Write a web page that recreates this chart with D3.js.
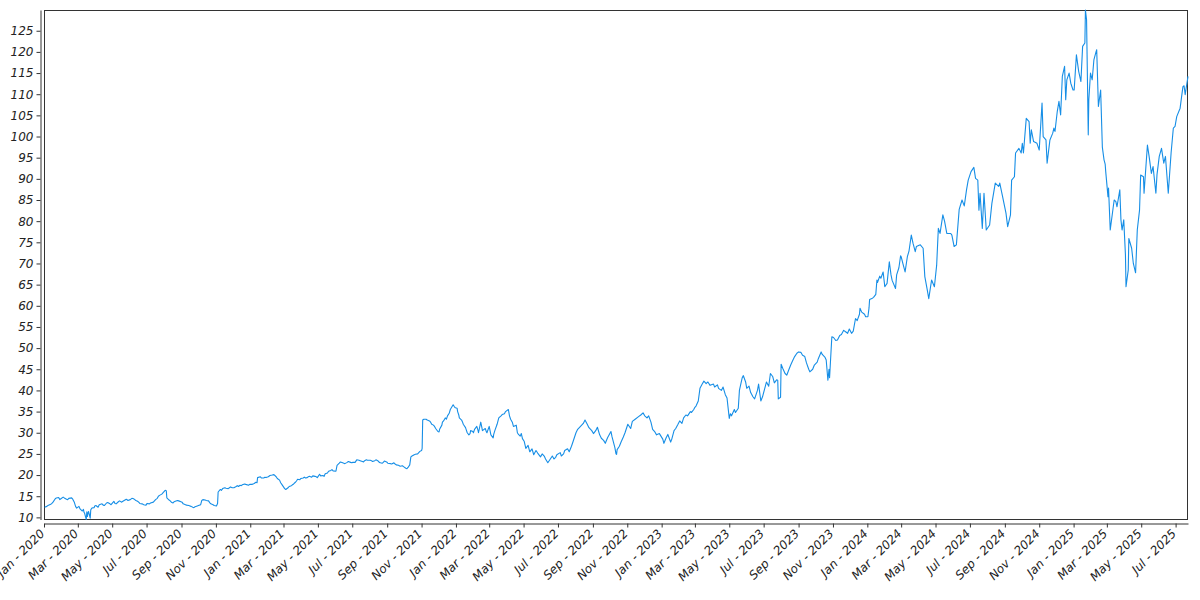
<!DOCTYPE html>
<html><head><meta charset="utf-8">
<script src="https://cdn.jsdelivr.net/npm/d3@7/dist/d3.min.js"></script>
<style>html,body{margin:0;background:#fff}</style>
</head><body><svg id="c" width="1200" height="600"></svg>
<script>
const prices2020 = [
["2020-01-02",12.4],["2020-01-06",12.6],["2020-01-08",12.8],["2020-01-13",13.1],["2020-01-15",13.3],["2020-01-17",13.6],["2020-01-21",14.4],["2020-01-23",14.6],["2020-01-27",14.7],["2020-01-29",14.2],["2020-01-31",14.4],
["2020-02-04",14.8],["2020-02-06",14.6],["2020-02-10",14.3],["2020-02-12",14.2],["2020-02-14",14.5],["2020-02-19",14.6],["2020-02-21",14.3],["2020-02-24",13.5],["2020-02-26",12.6],["2020-02-28",12.2],
["2020-03-03",12.6],["2020-03-05",12.0],["2020-03-09",11.5],["2020-03-11",11.9],["2020-03-12",11.2],["2020-03-13",11.0],["2020-03-16",9.5],["2020-03-17",11.3],["2020-03-18",10.2],["2020-03-19",11.0],["2020-03-20",11.4],["2020-03-23",9.8],["2020-03-24",11.8],["2020-03-26",12.2],["2020-03-30",12.3],["2020-03-31",12.7],
["2020-04-02",12.8],["2020-04-06",12.4],["2020-04-08",13.0],["2020-04-13",13.2],["2020-04-15",12.9],["2020-04-17",12.8],["2020-04-21",13.4],["2020-04-23",13.5],["2020-04-27",13.2],["2020-04-29",13.0],
["2020-05-04",13.8],["2020-05-06",13.3],["2020-05-08",13.2],["2020-05-12",13.7],["2020-05-14",13.9],["2020-05-18",13.6],["2020-05-20",13.8],["2020-05-26",14.3],["2020-05-28",14.1],["2020-05-29",14.0],
["2020-06-02",14.2],["2020-06-05",14.5],["2020-06-08",14.4],["2020-06-10",14.2],["2020-06-12",14.0],["2020-06-15",13.8],["2020-06-17",13.6],["2020-06-19",13.3],["2020-06-23",13.2],["2020-06-26",13.0],["2020-06-30",12.9],
["2020-07-02",13.3],["2020-07-06",13.2],["2020-07-08",13.4],["2020-07-13",13.6],["2020-07-15",13.9],["2020-07-17",14.2],["2020-07-20",14.5],["2020-07-22",15.0],["2020-07-24",15.2],["2020-07-28",15.5],["2020-07-30",15.8],
["2020-08-03",16.4],["2020-08-05",16.3],["2020-08-06",14.6],["2020-08-10",14.1],["2020-08-12",13.9],["2020-08-14",13.6],["2020-08-17",13.4],["2020-08-19",13.7],["2020-08-21",13.8],["2020-08-25",14.0],["2020-08-27",13.9],["2020-08-31",13.7],
["2020-09-02",13.6],["2020-09-04",13.2],["2020-09-08",13.0],["2020-09-10",12.9],["2020-09-14",12.8],["2020-09-16",12.7],["2020-09-18",12.6],["2020-09-21",12.4],["2020-09-23",12.3],["2020-09-25",12.5],["2020-09-29",12.7],
["2020-10-01",12.8],["2020-10-05",13.0],["2020-10-07",14.0],["2020-10-09",14.2],["2020-10-13",14.1],["2020-10-15",14.0],["2020-10-19",13.9],["2020-10-21",13.5],["2020-10-23",13.2],["2020-10-27",13.0],["2020-10-29",12.8],
["2020-11-02",12.7],["2020-11-04",13.3],["2020-11-05",16.0],["2020-11-09",16.6],["2020-11-11",16.4],["2020-11-13",16.8],["2020-11-17",17.0],["2020-11-19",16.9],["2020-11-23",16.8],["2020-11-25",17.0],["2020-11-27",17.2],["2020-11-30",17.0],
["2020-12-03",17.0],["2020-12-07",17.3],["2020-12-09",17.5],["2020-12-11",17.3],["2020-12-14",17.6],["2020-12-16",17.5],["2020-12-18",17.7],["2020-12-22",17.9],["2020-12-24",17.8],["2020-12-29",17.6],["2020-12-31",17.8]
];
const prices2021 = [
["2021-01-04",17.8],["2021-01-06",17.9],["2021-01-08",18.0],["2021-01-11",18.3],["2021-01-13",18.2],["2021-01-14",19.4],["2021-01-19",19.6],["2021-01-21",19.3],["2021-01-25",19.3],["2021-01-27",19.5],["2021-01-29",19.4],
["2021-02-02",19.6],["2021-02-05",19.9],["2021-02-09",20.0],["2021-02-12",20.1],["2021-02-16",19.6],["2021-02-18",19.2],["2021-02-22",18.8],["2021-02-24",18.2],["2021-02-26",17.8],
["2021-03-01",17.2],["2021-03-03",16.8],["2021-03-05",16.6],["2021-03-09",17.0],["2021-03-11",17.3],["2021-03-15",17.5],["2021-03-17",17.7],["2021-03-19",17.9],["2021-03-22",18.3],["2021-03-24",18.6],["2021-03-26",19.0],["2021-03-30",18.9],
["2021-04-01",19.2],["2021-04-05",19.3],["2021-04-07",19.5],["2021-04-09",19.3],["2021-04-12",19.4],["2021-04-14",19.6],["2021-04-16",19.7],["2021-04-20",19.5],["2021-04-22",19.8],["2021-04-26",19.7],["2021-04-28",19.6],["2021-04-30",19.4],
["2021-05-04",20.2],["2021-05-06",19.8],["2021-05-10",19.9],["2021-05-12",19.7],["2021-05-14",20.3],["2021-05-18",20.5],["2021-05-20",20.9],["2021-05-24",21.1],["2021-05-26",21.3],["2021-05-28",21.0],
["2021-06-02",20.9],["2021-06-04",22.3],["2021-06-08",22.8],["2021-06-10",23.1],["2021-06-14",22.9],["2021-06-16",22.8],["2021-06-18",22.7],["2021-06-22",23.0],["2021-06-24",23.2],["2021-06-28",23.0],["2021-06-30",22.9],
["2021-07-02",23.0],["2021-07-06",23.0],["2021-07-09",23.6],["2021-07-13",23.5],["2021-07-15",23.4],["2021-07-19",23.2],["2021-07-21",23.1],["2021-07-23",23.4],["2021-07-26",23.6],["2021-07-28",23.5],["2021-07-30",23.5],
["2021-08-02",23.5],["2021-08-04",23.4],["2021-08-06",23.2],["2021-08-10",23.4],["2021-08-12",23.6],["2021-08-16",23.3],["2021-08-18",23.0],["2021-08-20",22.9],["2021-08-23",22.8],["2021-08-25",23.0],["2021-08-27",23.3],["2021-08-31",23.1],
["2021-09-02",22.8],["2021-09-07",22.7],["2021-09-09",22.6],["2021-09-13",22.9],["2021-09-15",22.6],["2021-09-17",22.4],["2021-09-21",22.3],["2021-09-24",22.1],["2021-09-28",22.2],["2021-09-30",22.0],
["2021-10-04",21.6],["2021-10-06",21.5],["2021-10-08",21.8],["2021-10-11",22.4],["2021-10-13",24.3],["2021-10-15",24.5],["2021-10-19",24.8],["2021-10-21",24.9],["2021-10-25",25.0],["2021-10-27",25.3],["2021-10-29",25.6],
["2021-11-01",25.8],["2021-11-02",26.3],["2021-11-03",33.0],["2021-11-05",33.2],["2021-11-09",33.2],["2021-11-11",33.0],["2021-11-15",32.8],["2021-11-17",32.5],["2021-11-19",32.0],["2021-11-22",31.8],["2021-11-24",31.5],["2021-11-26",31.0],["2021-11-30",30.3],
["2021-12-02",30.2],["2021-12-03",30.8],["2021-12-07",31.8],["2021-12-08",32.5],["2021-12-10",32.8],["2021-12-13",33.5],["2021-12-15",33.2],["2021-12-17",34.0],["2021-12-20",34.6],["2021-12-22",35.5],["2021-12-27",36.6],["2021-12-29",36.2],["2021-12-31",35.9]
];
const prices2022 = [
["2022-01-03",35.8],["2022-01-04",35.0],["2022-01-06",34.2],["2022-01-07",33.5],["2022-01-11",33.0],["2022-01-13",32.4],["2022-01-14",32.0],["2022-01-18",31.2],["2022-01-19",30.8],["2022-01-21",30.0],["2022-01-24",29.5],["2022-01-26",29.8],["2022-01-27",30.5],["2022-01-31",30.3],
["2022-02-01",30.0],["2022-02-03",30.8],["2022-02-07",31.5],["2022-02-09",30.6],["2022-02-10",30.0],["2022-02-14",32.5],["2022-02-16",31.2],["2022-02-17",30.5],["2022-02-22",31.0],["2022-02-24",30.2],["2022-02-25",30.0],
["2022-03-01",31.5],["2022-03-04",29.5],["2022-03-08",28.8],["2022-03-09",29.6],["2022-03-11",30.5],["2022-03-15",32.0],["2022-03-18",33.5],["2022-03-22",34.0],["2022-03-24",34.3],["2022-03-28",34.5],["2022-03-30",35.0],
["2022-04-04",35.5],["2022-04-06",34.0],["2022-04-08",33.2],["2022-04-11",32.5],["2022-04-13",31.5],["2022-04-18",31.8],["2022-04-20",30.0],["2022-04-22",29.6],["2022-04-25",29.2],["2022-04-27",29.8],["2022-04-29",28.6],
["2022-05-02",28.0],["2022-05-05",26.3],["2022-05-09",27.0],["2022-05-12",25.5],["2022-05-16",26.2],["2022-05-19",24.8],["2022-05-23",25.8],["2022-05-26",25.2],["2022-05-31",24.3],
["2022-06-03",25.0],["2022-06-07",24.4],["2022-06-09",23.8],["2022-06-13",22.9],["2022-06-16",23.5],["2022-06-21",24.5],["2022-06-24",23.8],["2022-06-27",24.2],["2022-06-29",24.8],
["2022-07-05",25.3],["2022-07-07",24.5],["2022-07-11",25.0],["2022-07-13",25.8],["2022-07-18",26.2],["2022-07-21",25.5],["2022-07-25",26.8],["2022-07-28",28.0],
["2022-08-02",30.0],["2022-08-05",30.8],["2022-08-10",31.5],["2022-08-15",32.2],["2022-08-18",33.0],["2022-08-22",32.0],["2022-08-25",31.2],["2022-08-30",30.5],
["2022-09-02",29.8],["2022-09-06",30.5],["2022-09-09",31.3],["2022-09-13",29.5],["2022-09-16",28.7],["2022-09-20",28.2],["2022-09-23",27.5],["2022-09-27",28.8],
["2022-10-03",30.3],["2022-10-05",29.0],["2022-10-10",26.5],["2022-10-12",25.0],["2022-10-13",24.9],["2022-10-14",26.0],["2022-10-18",26.8],["2022-10-21",27.8],["2022-10-25",29.0],["2022-10-28",30.0],
["2022-11-02",32.0],["2022-11-07",31.0],["2022-11-10",32.7],["2022-11-15",33.2],["2022-11-21",33.8],["2022-11-25",34.2],["2022-11-29",34.7],
["2022-12-02",34.0],["2022-12-06",33.5],["2022-12-09",34.0],["2022-12-13",32.5],["2022-12-16",30.8],["2022-12-20",30.2],["2022-12-23",29.5],["2022-12-28",29.8]
];
const prices2023 = [
["2023-01-03",28.5],["2023-01-05",27.5],["2023-01-09",28.8],["2023-01-12",29.6],["2023-01-17",27.8],["2023-01-19",28.5],["2023-01-23",30.5],["2023-01-26",31.0],["2023-01-30",32.0],
["2023-02-02",32.8],["2023-02-06",32.2],["2023-02-09",33.5],["2023-02-13",34.2],["2023-02-16",34.0],["2023-02-21",35.0],["2023-02-23",34.8],["2023-02-27",35.5],
["2023-03-01",36.0],["2023-03-03",36.3],["2023-03-07",37.5],["2023-03-10",40.5],["2023-03-14",41.5],["2023-03-17",42.2],["2023-03-21",41.6],["2023-03-24",42.0],["2023-03-28",41.2],
["2023-04-03",41.5],["2023-04-05",40.8],["2023-04-10",41.3],["2023-04-12",40.5],["2023-04-17",40.0],["2023-04-20",40.8],["2023-04-24",39.0],["2023-04-27",38.2],
["2023-05-01",33.4],["2023-05-03",34.5],["2023-05-05",34.0],["2023-05-10",35.5],["2023-05-12",34.8],["2023-05-17",35.8],["2023-05-19",40.0],["2023-05-24",43.0],["2023-05-26",43.5],["2023-05-30",42.0],
["2023-06-01",40.5],["2023-06-05",41.0],["2023-06-08",39.5],["2023-06-12",38.5],["2023-06-15",38.0],["2023-06-20",40.0],["2023-06-22",41.5],["2023-06-26",37.5],["2023-06-29",38.5],
["2023-07-03",40.5],["2023-07-06",42.0],["2023-07-10",41.0],["2023-07-13",44.0],["2023-07-17",43.3],["2023-07-20",41.8],["2023-07-24",42.5],["2023-07-26",42.4],["2023-07-27",38.0],["2023-07-31",38.4],
["2023-08-01",46.2],["2023-08-04",45.2],["2023-08-08",44.0],["2023-08-11",43.6],["2023-08-15",45.0],["2023-08-18",46.0],["2023-08-22",47.2],["2023-08-25",48.0],["2023-08-29",48.8],
["2023-09-01",49.1],["2023-09-05",49.0],["2023-09-08",48.3],["2023-09-12",48.0],["2023-09-15",46.5],["2023-09-19",45.0],["2023-09-21",44.4],["2023-09-26",45.0],["2023-09-29",46.0],
["2023-10-04",46.7],["2023-10-06",47.5],["2023-10-11",49.1],["2023-10-13",48.5],["2023-10-18",47.8],["2023-10-20",47.2],["2023-10-23",42.4],["2023-10-25",45.0],["2023-10-26",43.0],["2023-10-30",52.7],
["2023-11-02",52.5],["2023-11-06",51.8],["2023-11-09",51.9],["2023-11-13",53.0],["2023-11-16",53.2],["2023-11-20",54.2],["2023-11-24",53.8],["2023-11-27",53.5],["2023-11-30",54.5],
["2023-12-04",53.5],["2023-12-07",54.0],["2023-12-11",57.0],["2023-12-14",56.5],["2023-12-18",58.0],["2023-12-19",59.4],["2023-12-22",58.5],["2023-12-27",58.0],["2023-12-29",57.4]
];
const prices2024 = [
["2024-01-02",57.4],["2024-01-04",59.5],["2024-01-05",61.5],["2024-01-09",61.7],["2024-01-12",62.0],["2024-01-16",62.7],["2024-01-18",66.1],["2024-01-19",65.5],["2024-01-23",67.0],["2024-01-25",66.5],["2024-01-29",68.0],
["2024-02-01",64.5],["2024-02-05",65.3],["2024-02-09",70.4],["2024-02-12",67.3],["2024-02-14",66.0],["2024-02-20",64.1],["2024-02-22",67.3],["2024-02-26",69.0],["2024-02-29",71.8],
["2024-03-01",71.6],["2024-03-04",70.0],["2024-03-08",68.0],["2024-03-12",71.6],["2024-03-15",73.0],["2024-03-19",76.7],["2024-03-22",74.8],["2024-03-26",72.8],["2024-03-28",74.0],
["2024-04-04",74.4],["2024-04-09",73.6],["2024-04-12",66.9],["2024-04-16",64.0],["2024-04-19",61.7],["2024-04-24",66.1],["2024-04-29",64.5],
["2024-05-03",69.6],["2024-05-06",78.3],["2024-05-09",77.1],["2024-05-14",81.5],["2024-05-17",80.0],["2024-05-21",77.1],["2024-05-28",77.1],["2024-05-30",76.7],
["2024-06-03",74.0],["2024-06-07",74.4],["2024-06-12",82.8],["2024-06-17",85.0],["2024-06-21",83.6],["2024-06-25",87.4],["2024-06-28",89.7],
["2024-07-03",91.7],["2024-07-08",92.7],["2024-07-11",90.1],["2024-07-15",89.7],["2024-07-17",82.6],["2024-07-19",86.6],["2024-07-23",78.3],["2024-07-26",86.6],["2024-07-30",77.9],
["2024-08-05",79.1],["2024-08-09",84.2],["2024-08-15",89.0],["2024-08-21",88.2],["2024-08-23",89.0],["2024-08-28",85.8],
["2024-09-03",81.9],["2024-09-06",78.7],["2024-09-11",81.5],["2024-09-13",89.7],["2024-09-18",90.5],["2024-09-20",96.1],["2024-09-26",97.2],["2024-09-30",96.1],
["2024-10-02",98.4],["2024-10-04",96.1],["2024-10-09",104.3],["2024-10-14",103.5],["2024-10-16",98.4],["2024-10-18",101.6],["2024-10-22",98.8],["2024-10-28",98.4],
["2024-11-01",96.8],["2024-11-06",107.9],["2024-11-08",100.0],["2024-11-13",99.2],["2024-11-15",93.7],["2024-11-20",99.2],["2024-11-25",100.8],["2024-11-27",102.0],["2024-11-29",101.2],
["2024-12-03",105.9],["2024-12-06",108.3],["2024-12-09",105.1],["2024-12-12",114.2],["2024-12-16",116.6],["2024-12-18",108.7],["2024-12-20",113.4],["2024-12-24",115.0],["2024-12-27",112.6],["2024-12-31",111.0]
];
const prices2025 = [
["2025-01-02",111.0],["2025-01-06",119.3],["2025-01-10",115.4],["2025-01-14",113.0],["2025-01-17",121.3],["2025-01-21",122.1],["2025-01-22",129.9],["2025-01-24",127.6],["2025-01-27",100.4],["2025-01-28",108.7],["2025-01-31",115.0],
["2025-02-03",113.4],["2025-02-06",118.1],["2025-02-10",120.1],["2025-02-11",120.5],["2025-02-14",107.1],["2025-02-18",111.0],["2025-02-21",97.5],["2025-02-24",94.5],["2025-02-26",93.5],["2025-02-27",91.7],
["2025-03-03",85.8],["2025-03-04",87.8],["2025-03-07",77.9],["2025-03-12",83.0],["2025-03-14",85.0],["2025-03-17",84.6],["2025-03-19",83.4],["2025-03-24",87.4],["2025-03-26",80.3],["2025-03-28",77.9],["2025-03-31",80.3],
["2025-04-03",72.0],["2025-04-04",64.5],["2025-04-08",68.5],["2025-04-09",75.9],["2025-04-14",73.6],["2025-04-17",70.0],["2025-04-21",67.8],["2025-04-24",77.9],["2025-04-28",82.6],["2025-04-30",90.9],
["2025-05-05",90.5],["2025-05-06",86.6],["2025-05-12",98.0],["2025-05-15",95.3],["2025-05-19",91.3],["2025-05-22",92.9],["2025-05-27",86.6],["2025-05-29",91.0],
["2025-06-02",95.3],["2025-06-06",97.2],["2025-06-10",93.7],["2025-06-13",95.3],["2025-06-18",86.6],["2025-06-23",96.1],["2025-06-27",102.0],["2025-06-30",102.4],
["2025-07-03",104.7],["2025-07-09",106.7],["2025-07-14",111.8],["2025-07-16",112.0],["2025-07-18",109.9],["2025-07-21",112.5],["2025-07-23",114.2]
];
const yTickValues = [10,15,20,25,30,35,40,45,50,55,60,65,70,75,80,85,90,95,100,105,110,115,120,125];

const parse = d3.timeParse("%Y-%m-%d");
const data = [].concat(prices2020, prices2021, prices2022, prices2023, prices2024, prices2025)
  .map(([d, v]) => ({date: parse(d), value: v}));

const L = 44, R = 1188, T = 10, B = 519.5;
const svg = d3.select("#c");
const x = d3.scaleTime()
  .domain([d3.timeMonth.floor(data[0].date), data[data.length - 1].date])
  .range([L, R]);
const y = d3.scaleLinear().domain(d3.extent(data, d => d.value)).range([B, T]);

const font = "'DejaVu Sans', sans-serif";

// plot frame
svg.append("rect").attr("x", L + 0.5).attr("y", T + 0.5)
  .attr("width", R - L - 1).attr("height", B - T - 0.5)
  .attr("fill", "#fff").attr("stroke", "#333").attr("stroke-width", 1);

// line
const line = d3.line().x(d => x(d.date)).y(d => y(d.value));
svg.append("path").datum(data).attr("d", line)
  .attr("fill", "none").attr("stroke", "#168ee6").attr("stroke-width", 1.1)
  .attr("stroke-linejoin", "round");

// y axis
const gy = svg.append("g").attr("transform", "translate(40.5,0)")
  .call(d3.axisLeft(y).tickValues(yTickValues).tickFormat(d3.format("d")).tickSize(4).tickSizeOuter(0).tickPadding(3));
gy.select(".domain").attr("stroke", "#333");
gy.selectAll(".tick line").attr("stroke", "#333");
gy.selectAll("text").attr("font-family", font).attr("font-style", "italic")
  .attr("font-size", 12).attr("fill", "#222");

// x axis
const gx = svg.append("g").attr("transform", "translate(0,523.5)")
  .call(d3.axisBottom(x).ticks(d3.timeMonth.every(2)).tickFormat(d3.timeFormat("%b - %Y"))
    .tickSize(4).tickSizeOuter(0));
gx.select(".domain").attr("stroke", "#333");
gx.selectAll(".tick line").attr("stroke", "#333");
gx.selectAll("text").attr("font-family", font).attr("font-style", "italic")
  .attr("font-size", 12).attr("fill", "#222")
  .attr("text-anchor", "end").attr("x", -7).attr("y", 4).attr("dy", "0.35em")
  .attr("transform", "rotate(-45)");
</script></body></html>
